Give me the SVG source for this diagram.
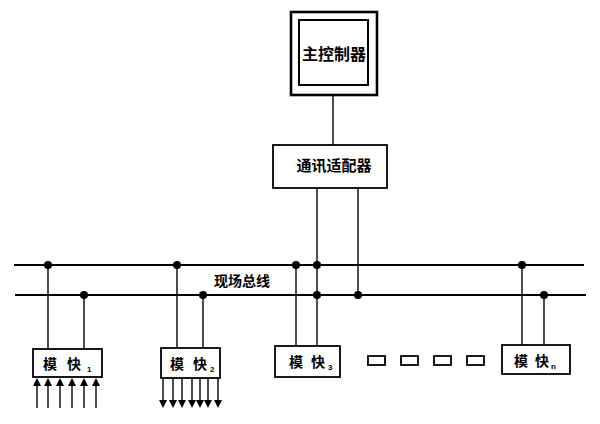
<svg xmlns="http://www.w3.org/2000/svg" width="600" height="424" viewBox="0 0 600 424">
<style>
.box{fill:#fff;stroke:#000;stroke-width:1.8}
.ln{stroke:#000;stroke-width:1.4;fill:none}
.bus{stroke:#000;stroke-width:2.2;fill:none}
.t{font-family:"Noto Sans CJK SC","Liberation Sans",sans-serif;font-size:14px;font-weight:bold;fill:#000}
.s{font-family:"Liberation Sans",sans-serif;font-size:8px;font-weight:bold;fill:#000}
.sm{fill:#fff;stroke:#000;stroke-width:1.8}
</style>
<defs>
<marker id="ah" markerWidth="8" markerHeight="8" refX="4" refY="4" orient="auto" markerUnits="userSpaceOnUse"><path d="M0,0 L8,4 L0,8 Z" fill="#000"/></marker>
</defs>
<g id="connectors">
<path class="bus" d="M14,265 H584"/>
<path class="bus" d="M15,295 H586"/>
<path class="ln" d="M333,94 V145"/>
<path class="ln" d="M317,188 V346"/>
<path class="ln" d="M358,188 V295"/>
<path class="ln" d="M48,265 V349 M84,295 V349"/>
<path class="ln" d="M177,265 V348 M203,295 V348"/>
<path class="ln" d="M296,265 V346"/>
<path class="ln" d="M522,265 V345 M544,295 V345"/>
<g fill="#000">
<circle cx="48" cy="265" r="4"/><circle cx="177" cy="265" r="4"/><circle cx="296" cy="265" r="4"/><circle cx="317" cy="265" r="4"/><circle cx="522" cy="265" r="4"/>
<circle cx="84" cy="295" r="4"/><circle cx="203" cy="295" r="4"/><circle cx="317" cy="295" r="4"/><circle cx="358" cy="295" r="4"/><circle cx="544" cy="295" r="4"/>
</g>
<g class="ln" marker-end="url(#ah)">
<path d="M37,408 V382"/><path d="M48,408 V382"/><path d="M60,408 V382"/><path d="M72,408 V382"/><path d="M84,408 V382"/><path d="M96,408 V382"/>
<path d="M163,378 V404"/><path d="M173,378 V404"/><path d="M182,378 V404"/><path d="M192,378 V404"/><path d="M200,378 V404"/><path d="M208,378 V404"/><path d="M218,378 V404"/>
</g>
</g>
<g id="bus-label"><text class="t" x="242" y="286" text-anchor="middle">现场总线</text></g>
<g id="main-controller">
<rect x="291" y="12" width="86" height="83" fill="#fff" stroke="#000" stroke-width="2.6"/>
<rect x="299" y="20" width="69" height="65" fill="none" stroke="#000" stroke-width="2"/>
<text class="t" x="334" y="60" text-anchor="middle" style="font-size:16px">主控制器</text>
</g>
<g id="adapter">
<rect class="box" x="273" y="145" width="114" height="43"/>
<text class="t" x="334" y="171" text-anchor="middle" style="font-size:15px">通讯适配器</text>
</g>
<g id="module1">
<rect class="box" x="33" y="349" width="69" height="28"/>
<text class="t" y="369"><tspan x="43">模</tspan><tspan x="67">快</tspan></text><text class="s" x="87" y="372">1</text>
</g>
<g id="module2">
<rect class="box" x="161" y="348" width="59" height="30"/>
<text class="t" y="369"><tspan x="170">模</tspan><tspan x="193">快</tspan></text><text class="s" x="210" y="372">2</text>
</g>
<g id="module3">
<rect class="box" x="275" y="346" width="65" height="31"/>
<text class="t" y="367"><tspan x="289">模</tspan><tspan x="311">快</tspan></text><text class="s" x="328" y="370">3</text>
</g>
<g id="ellipsis">
<rect class="sm" x="368" y="356" width="17" height="9"/>
<rect class="sm" x="401" y="356" width="17" height="9"/>
<rect class="sm" x="434" y="356" width="17" height="9"/>
<rect class="sm" x="467" y="356" width="17" height="9"/>
</g>
<g id="modulen">
<rect class="box" x="502" y="345" width="68" height="29"/>
<text class="t" y="366"><tspan x="514">模</tspan><tspan x="535">快</tspan></text><text class="s" x="551" y="369">n</text>
</g>
</svg>
